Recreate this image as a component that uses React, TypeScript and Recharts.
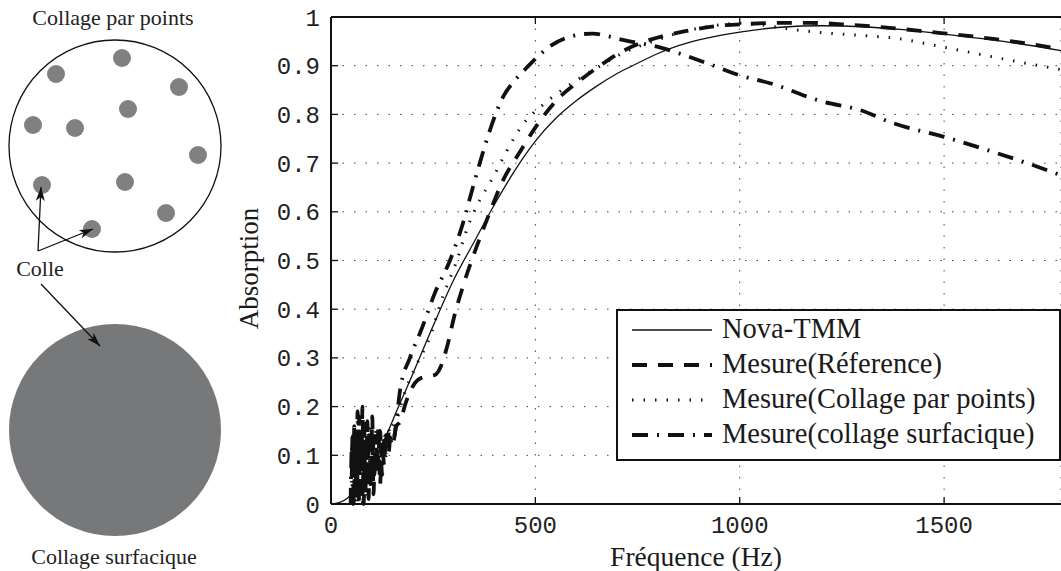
import { LineChart, Line, XAxis, YAxis, CartesianGrid, Legend } from "recharts";

// Nova-TMM (modèle)
const tmmFreq = [0, 20, 40, 60, 80, 100, 120, 140, 160, 180, 200, 250, 300, 350, 400, 450, 500, 550, 600, 650, 700, 750, 800, 850, 900, 1000, 1100, 1200, 1300, 1400, 1500, 1600, 1700, 1786];
const tmmAbs = [0, 0.003, 0.012, 0.03, 0.055, 0.085, 0.115, 0.15, 0.19, 0.228, 0.267, 0.366, 0.46, 0.538, 0.615, 0.685, 0.745, 0.792, 0.828, 0.858, 0.884, 0.905, 0.925, 0.941, 0.953, 0.969, 0.979, 0.982, 0.98, 0.974, 0.965, 0.955, 0.943, 0.931];

// Mesure (Référence)
const refFreq = [50, 53, 56, 59, 62, 65, 68, 71, 74, 77, 80, 83, 86, 89, 92, 95, 98, 101, 104, 108, 112, 116, 120, 125, 130, 135, 140, 146, 152, 160, 170, 180, 193, 213, 235, 254, 270, 283, 303, 324, 357, 389, 421, 460, 504, 553, 609, 658, 714, 780, 861, 950, 1025, 1100, 1172, 1250, 1319, 1400, 1458, 1540, 1620, 1700, 1786];
const refAbs = [0.0, 0.15, 0.0, 0.13, 0.02, 0.19, 0.0, 0.16, 0.03, 0.2, 0.0, 0.14, 0.04, 0.17, 0.01, 0.15, 0.05, 0.18, 0.02, 0.14, 0.06, 0.16, 0.04, 0.13, 0.08, 0.15, 0.1, 0.14, 0.13, 0.16, 0.17, 0.2, 0.23, 0.255, 0.262, 0.265, 0.285, 0.32, 0.39, 0.45, 0.53, 0.6, 0.665, 0.72, 0.778, 0.83, 0.87, 0.9, 0.93, 0.953, 0.97, 0.982, 0.986, 0.988, 0.988, 0.985, 0.981, 0.975, 0.97, 0.963, 0.955, 0.946, 0.934];

// Mesure (Collage par points)
const ptsFreq = [50, 53, 56, 59, 62, 65, 68, 71, 74, 77, 80, 84, 88, 92, 96, 100, 105, 110, 115, 120, 126, 132, 140, 150, 160, 170, 185, 206, 242, 271, 308, 335, 364, 396, 430, 470, 519, 577, 634, 714, 798, 861, 920, 1001, 1050, 1106, 1214, 1300, 1375, 1500, 1620, 1700, 1786];
const ptsAbs = [0.02, 0.14, 0.01, 0.11, 0.03, 0.19, 0.02, 0.14, 0.06, 0.17, 0.03, 0.13, 0.07, 0.15, 0.04, 0.12, 0.08, 0.15, 0.07, 0.13, 0.1, 0.14, 0.13, 0.16, 0.17, 0.2, 0.24, 0.28, 0.343, 0.42, 0.5, 0.57, 0.624, 0.67, 0.725, 0.78, 0.82, 0.857, 0.887, 0.926, 0.953, 0.97, 0.98, 0.987, 0.984, 0.977, 0.967, 0.962, 0.957, 0.938, 0.918, 0.905, 0.892];

// Mesure (collage surfacique)
const surfFreq = [48, 51, 54, 57, 60, 63, 66, 69, 72, 75, 78, 81, 84, 87, 90, 94, 98, 102, 106, 110, 115, 120, 125, 130, 136, 142, 150, 160, 169, 193, 222, 254, 291, 323, 347, 364, 389, 421, 450, 480, 536, 602, 640, 680, 714, 798, 920, 1001, 1074, 1204, 1294, 1375, 1500, 1620, 1703, 1786];
const surfAbs = [0.0, 0.12, 0.0, 0.16, 0.01, 0.13, 0.0, 0.18, 0.03, 0.14, 0.0, 0.17, 0.02, 0.12, 0.05, 0.16, 0.03, 0.14, 0.06, 0.12, 0.09, 0.15, 0.06, 0.13, 0.1, 0.15, 0.12, 0.17, 0.234, 0.3, 0.36, 0.433, 0.5, 0.577, 0.65, 0.7, 0.768, 0.836, 0.87, 0.897, 0.94, 0.963, 0.966, 0.96, 0.953, 0.939, 0.905, 0.88, 0.864, 0.826, 0.809, 0.782, 0.754, 0.723, 0.7, 0.675];

const xTicks = [0, 500, 1000, 1500];
const yTicks = [0, 0.1, 0.2, 0.3, 0.4, 0.5, 0.6, 0.7, 0.8, 0.9, 1];

// positions des points de colle sur le dessin de gauche
const glueDots = [
  [122, 58], [56, 74], [179, 87], [128, 109], [33, 125], [75, 128],
  [198, 155], [42, 185], [125, 182], [166, 213], [92, 229],
];

const toPoints = (freq: number[], abs: number[]) => freq.map((f, i) => ({ f, a: abs[i] }));

const series = [
  { name: "Nova-TMM", data: toPoints(tmmFreq, tmmAbs), width: 1.3, dash: undefined as string | undefined },
  { name: "Mesure(Réference)", data: toPoints(refFreq, refAbs), width: 3.8, dash: "15 11" },
  { name: "Mesure(Collage par points)", data: toPoints(ptsFreq, ptsAbs), width: 3, dash: "1.5 10" },
  { name: "Mesure(collage surfacique)", data: toPoints(surfFreq, surfAbs), width: 3.8, dash: "16 9 2 9" },
];

const serif = "Liberation Serif";
const mono = "Liberation Mono";

const NoLabel = () => null;

const LegendBox = () => (
  <svg width={445} height={152} style={{ display: "block" }}>
    <rect x={1} y={1} width={443} height={150} fill="#fff" stroke="#111" strokeWidth={2} />
    {series.map((s, i) => {
      const y = 21 + i * 35;
      return (
        <g key={s.name}>
          <line x1={16} x2={96} y1={y} y2={y} stroke="#111" strokeWidth={s.width} strokeDasharray={s.dash} />
          <text x={106} y={y + 8} style={{ fontFamily: serif }} fontSize={28.5} fill="#1a1a1a">
            {s.name}
          </text>
        </g>
      );
    })}
  </svg>
);

const renderYLabel = (props: any) => {
  const vb = props.viewBox;
  const cx = vb.x + 21;
  const cy = vb.y + vb.height / 2 + 8;
  return (
    <text x={cx} y={cy} transform={`rotate(-90 ${cx} ${cy})`} textAnchor="middle" dominantBaseline="middle" style={{ fontFamily: serif }} fontSize={27} fill="#1a1a1a">
      Absorption
    </text>
  );
};

function Sketches() {
  const textStyle = { fontFamily: serif };
  return (
    <svg width={235} height={571} style={{ position: "absolute", left: 0, top: 0 }}>
      <defs>
        <marker id="head" viewBox="0 0 14 9" refX={14} refY={4.5} markerWidth={14} markerHeight={9} markerUnits="userSpaceOnUse" orient="auto">
          <path d="M0,0 L14,4.5 L0,9 L4,4.5 z" fill="#111" />
        </marker>
      </defs>
      <text x={113} y={25} textAnchor="middle" style={textStyle} fontSize={22} fill="#222">
        Collage par points
      </text>
      <circle cx={115} cy={146} r={106} fill="none" stroke="#111" strokeWidth={1.3} />
      {glueDots.map(([x, y], i) => (
        <circle key={i} cx={x} cy={y} r={9} fill="#808080" />
      ))}
      <line x1={38} y1={251} x2={41} y2={187} stroke="#111" strokeWidth={1.3} markerEnd="url(#head)" />
      <line x1={38} y1={251} x2={93} y2={229} stroke="#111" strokeWidth={1.3} markerEnd="url(#head)" />
      <text x={40} y={276} textAnchor="middle" style={textStyle} fontSize={22} fill="#222">
        Colle
      </text>
      <circle cx={115} cy={430} r={106} fill="#77787a" />
      <line x1={41} y1={284} x2={100} y2={346} stroke="#111" strokeWidth={1.3} markerEnd="url(#head)" />
      <text x={114} y={564} textAnchor="middle" style={textStyle} fontSize={22} fill="#222">
        Collage surfacique
      </text>
    </svg>
  );
}

export default function App() {
  return (
    <div style={{ position: "absolute", left: 0, top: 0, width: 1061, height: 571, background: "#fff" }}>
      <Sketches />
      <LineChart width={1061} height={571} margin={{ top: 2, right: 0, bottom: 0, left: 231 }}>
        <CartesianGrid stroke="#444" strokeDasharray="1.5 10" />
        <XAxis
          dataKey="f"
          type="number"
          domain={[0, 1786]}
          ticks={xTicks}
          allowDataOverflow
          height={67}
          tickSize={-7}
          tickMargin={19}
          axisLine={{ stroke: "#111", strokeWidth: 2 }}
          tickLine={{ stroke: "#111", strokeWidth: 1.3 }}
          tick={{ fontFamily: mono, fontSize: 24, fill: "#222" }}
          label={{ value: "Fréquence (Hz)", position: "insideBottom", offset: 5, style: { fontFamily: serif }, fontSize: 27.5, fill: "#1a1a1a" }}
        />
        <XAxis
          xAxisId="top"
          orientation="top"
          dataKey="f"
          type="number"
          domain={[0, 1786]}
          ticks={xTicks}
          allowDataOverflow
          height={15}
          tickSize={-7}
          axisLine={{ stroke: "#111", strokeWidth: 2 }}
          tickLine={{ stroke: "#111", strokeWidth: 1.3 }}
          tick={<NoLabel />}
        />
        <YAxis
          dataKey="a"
          type="number"
          domain={[0, 1]}
          ticks={yTicks}
          width={100}
          tickSize={-7}
          tickMargin={18}
          axisLine={{ stroke: "#111", strokeWidth: 2 }}
          tickLine={{ stroke: "#111", strokeWidth: 1.3 }}
          tick={{ fontFamily: mono, fontSize: 24, fill: "#222" }}
          label={{ content: renderYLabel }}
        />
        {series.map((s) => (
          <Line
            key={s.name}
            data={s.data}
            dataKey="a"
            name={s.name}
            type="monotone"
            stroke="#111"
            strokeWidth={s.width}
            strokeDasharray={s.dash}
            dot={false}
            isAnimationActive={false}
          />
        ))}
        <Legend
          layout="vertical"
          align="center"
          verticalAlign="middle"
          content={() => <LegendBox />}
          wrapperStyle={{ left: 616, top: 309, width: 445, height: 152 }}
        />
      </LineChart>
    </div>
  );
}
